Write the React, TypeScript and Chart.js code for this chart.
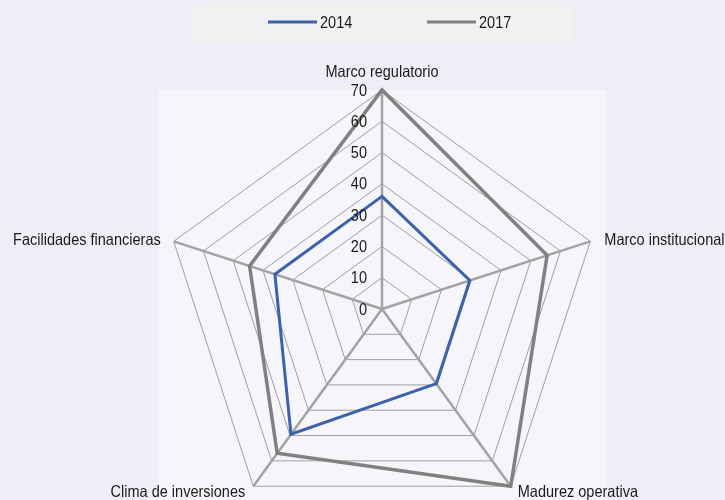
import React, { useEffect, useRef } from "react";
import { Chart, registerables } from "chart.js";

Chart.register(...registerables);

const categories = [
  "Marco regulatorio",
  "Marco institucional",
  "Madurez operativa",
  "Clima de inversiones",
  "Facilidades financieras",
];
const series2014 = [36, 29.5, 29.5, 49.5, 36];
const series2017 = [70, 55.5, 70, 57, 44.5];
const seriesNames = ["2014", "2017"];
const tickValues = [0, 10, 20, 30, 40, 50, 60, 70];

const FONT = '16.5px "Liberation Sans", Arial, sans-serif';
const SX = 0.88;
const TEXT = "#1a1a1a";
const BLUE = "#3d62aa";
const GRAY = "#808080";

function drawText(ctx: CanvasRenderingContext2D, text: string, x: number, y: number, align: CanvasTextAlign, baseline: CanvasTextBaseline) {
  ctx.save();
  ctx.translate(x, y);
  ctx.scale(SX, 1);
  ctx.font = FONT;
  ctx.fillStyle = TEXT;
  ctx.textAlign = align;
  ctx.textBaseline = baseline;
  ctx.fillText(text, 0, 0);
  ctx.restore();
}

const decorPlugin = {
  id: "decor",
  beforeDraw(chart: any) {
    const ctx = chart.ctx;
    ctx.save();
    ctx.fillStyle = "#eeeef8";
    ctx.fillRect(0, 0, chart.width, chart.height);
    ctx.fillStyle = "#f5f5fa";
    ctx.fillRect(158, 90, 448, 410);
    ctx.fillStyle = "#f0f1f1";
    ctx.fillRect(193, 2, 380, 41);
    ctx.restore();
  },
  afterDraw(chart: any) {
    const ctx = chart.ctx;
    const scale = chart.scales.r;
    // tick labels
    tickValues.forEach((v) => {
      const d = scale.getDistanceFromCenterForValue(v);
      drawText(ctx, String(v), scale.xCenter - 15, scale.yCenter - d + 1, "right", "middle");
    });
    // point labels
    const labels = chart.data.labels as string[];
    labels.forEach((lab, i) => {
      const p = scale.getPointPosition(i, scale.drawingArea);
      const a = scale.getIndexAngle(i);
      const s = Math.sin(a);
      const c = Math.cos(a);
      if (Math.abs(s) < 0.01) {
        drawText(ctx, lab, p.x, p.y - 13, "center", "alphabetic");
      } else if (c > 0) {
        drawText(ctx, lab, p.x + (s > 0 ? 14 : -13), p.y + 4, s > 0 ? "left" : "right", "alphabetic");
      } else {
        drawText(ctx, lab, p.x + (s > 0 ? 7 : -8), p.y + 11, s > 0 ? "left" : "right", "alphabetic");
      }
    });
    // legend
    const xs = [268, 427];
    chart.data.datasets.forEach((ds: any, i: number) => {
      const x = xs[i];
      ctx.save();
      ctx.strokeStyle = ds.borderColor;
      ctx.lineWidth = 3;
      ctx.beginPath();
      ctx.moveTo(x, 22);
      ctx.lineTo(x + 49, 22);
      ctx.stroke();
      ctx.restore();
      drawText(ctx, ds.label, x + 52, 28, "left", "alphabetic");
    });
  },
};

export default function App() {
  const ref = useRef<HTMLCanvasElement>(null);
  useEffect(() => {
    document.body.style.margin = "0";
    const chart = new Chart(ref.current as HTMLCanvasElement, {
      type: "radar",
      data: {
        labels: categories,
        datasets: [
          {
            label: seriesNames[0],
            data: series2014,
            borderColor: BLUE,
            borderWidth: 3,
            pointRadius: 0,
            fill: false,
            tension: 0,
          },
          {
            label: seriesNames[1],
            data: series2017,
            borderColor: GRAY,
            borderWidth: 3.5,
            pointRadius: 0,
            fill: false,
            tension: 0,
          },
        ],
      },
      options: {
        responsive: false,
        animation: false,
        plugins: {
          legend: { display: false },
          tooltip: { enabled: false },
        },
        scales: {
          r: {
            min: 0,
            max: 70,
            ticks: { stepSize: 10, display: false },
            pointLabels: { display: false },
            grid: { color: "#a0a0a0", lineWidth: 1 },
            angleLines: { color: "#a3a3a3", lineWidth: 2.5 },
            afterSetDimensions: (s: any) => {
              s.xCenter = 382;
              s.yCenter = 309;
              s.drawingArea = 219;
            },
          },
        },
      },
      plugins: [decorPlugin],
    } as any);
    return () => chart.destroy();
  }, []);
  return <canvas ref={ref} width={725} height={500} style={{ display: "block" }} />;
}
